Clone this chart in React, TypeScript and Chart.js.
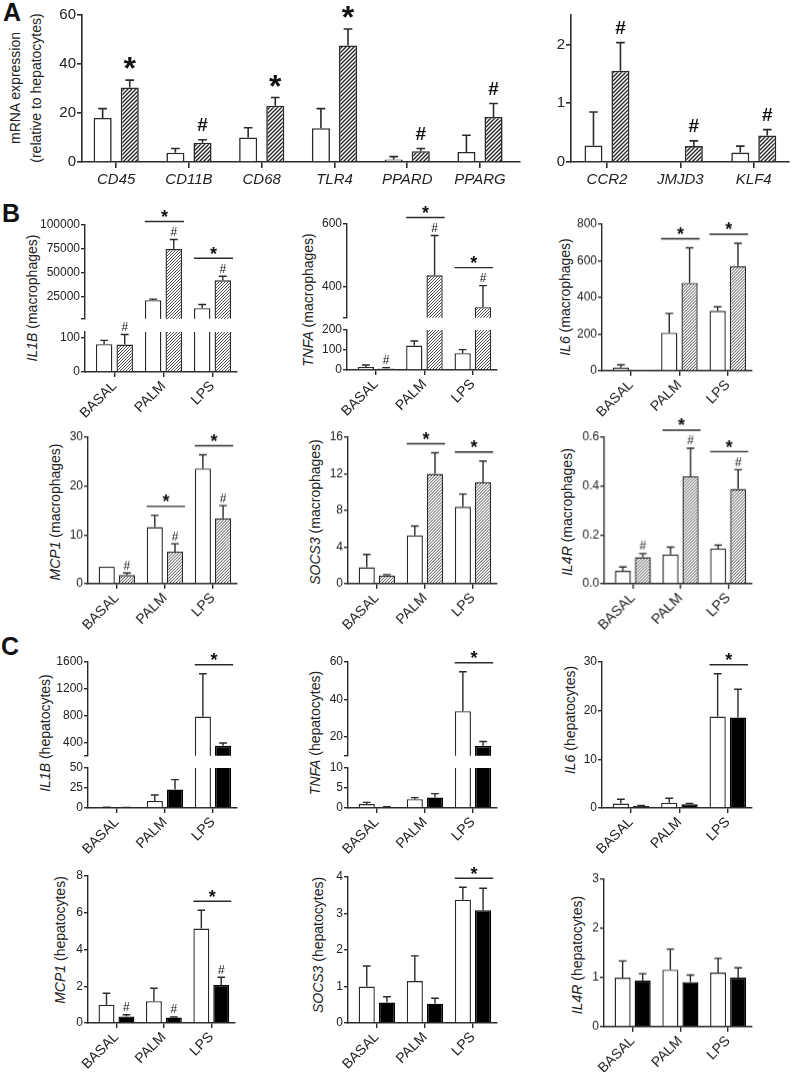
import React, { useEffect, useRef } from 'react';
import { Chart, registerables } from 'chart.js';
Chart.register(...registerables);

const FONT = "'Liberation Sans', Arial, Helvetica, sans-serif";
const INK = '#2a2a2a';

// ---------------- Panel A ----------------
const genesA = ['CD45', 'CD11B', 'CD68', 'TLR4', 'PPARD', 'PPARG'];
const hepA = [18.0, 3.8, 10.0, 13.8, 1.0, 4.1];
const hepASem = [3.8, 1.7, 4.0, 8.0, 1.2, 6.8];
const macA = [30.4, 7.9, 23.0, 47.6, 4.4, 18.4];
const macASem = [3.0, 1.2, 3.3, 6.7, 1.1, 5.5];
const starA = [true, false, true, true, false, false];
const hashA = [false, true, false, false, true, true];
const ticksA = [0, 20, 40, 60];

const genesA2 = ['CCR2', 'JMJD3', 'KLF4'];
const hepA2 = [0.28, 0.01, 0.16];
const hepA2Sem = [0.57, 0, 0.11];
const macA2 = [1.55, 0.27, 0.45];
const macA2Sem = [0.48, 0.09, 0.1];
const hashA2 = [true, true, true];
const ticksA2 = [0, 1, 2];

// ---------------- Panel B (macrophages) ----------------
const treatments = ['BASAL', 'PALM', 'LPS'];
const none = [false, false, false];
const all3 = [true, true, true];
const palmLps = [false, true, true];
const lpsOnly = [false, false, true];

const il1bMacOpen = [80, 21900, 13500];
const il1bMacOpenSem = [11, 1000, 3800];
const il1bMacHatch = [79, 75000, 42500];
const il1bMacHatchSem = [29, 10000, 4200];
const il1bMacTicksTop = [2500, 25000, 50000, 75000, 100000];
const il1bMacTicksBottom = [0, 50, 100, 115];

const tnfaMacOpen = [15, 122, 84];
const tnfaMacOpenSem = [10, 23, 18];
const tnfaMacHatch = [8, 436, 334];
const tnfaMacHatchSem = [4, 127, 69];
const tnfaMacTicksTop = [300, 400, 600];
const tnfaMacTicksBottom = [0, 100, 200];

const il6MacOpen = [18, 207, 327];
const il6MacOpenSem = [15, 106, 22];
const il6MacHatch = [3, 480, 571];
const il6MacHatchSem = [0, 191, 125];
const il6MacTicks = [0, 200, 400, 600, 800];

const mcp1MacOpen = [3.5, 11.6, 23.6];
const mcp1MacOpenSem = [0, 2.4, 2.8];
const mcp1MacHatch = [1.8, 6.6, 13.4];
const mcp1MacHatchSem = [0.4, 1.6, 2.6];
const mcp1MacTicks = [0, 10, 20, 30];

const socs3MacOpen = [1.8, 5.3, 8.4];
const socs3MacOpenSem = [1.4, 1.0, 1.4];
const socs3MacHatch = [0.9, 12.0, 11.1];
const socs3MacHatchSem = [0.1, 2.3, 2.3];
const socs3MacTicks = [0, 4, 8, 12, 16];

const il4rMacOpen = [0.053, 0.12, 0.144];
const il4rMacOpenSem = [0.016, 0.03, 0.014];
const il4rMacHatch = [0.109, 0.44, 0.388];
const il4rMacHatchSem = [0.015, 0.115, 0.079];
const il4rMacTicks = [0, 0.2, 0.4, 0.6];

// ---------------- Panel C (hepatocytes) ----------------
const il1bHepOpen = [0.9, 8.8, 785];
const il1bHepOpenSem = [0.2, 7.4, 640];
const il1bHepSolid = [0.6, 23, 350];
const il1bHepSolidSem = [0.2, 12.5, 40];
const il1bHepTicksTop = [200, 400, 800, 1200, 1600];
const il1bHepTicksBottom = [0, 25, 50];

const tnfaHepOpen = [1.0, 2.2, 33.8];
const tnfaHepOpenSem = [0.4, 0.4, 21];
const tnfaHepSolid = [0.2, 2.6, 15.2];
const tnfaHepSolidSem = [0.1, 1.0, 2.4];
const tnfaHepTicksTop = [10, 20, 40, 60];
const tnfaHepTicksBottom = [0, 5, 10];

const il6HepOpen = [0.9, 1.1, 18.8];
const il6HepOpenSem = [0.9, 0.9, 8.8];
const il6HepSolid = [0.4, 0.75, 18.6];
const il6HepSolidSem = [0.1, 0.2, 5.8];
const il6HepTicks = [0, 10, 20, 30];

const mcp1HepOpen = [1.0, 1.19, 5.14];
const mcp1HepOpenSem = [0.62, 0.7, 1.0];
const mcp1HepSolid = [0.36, 0.3, 2.07];
const mcp1HepSolidSem = [0.09, 0.03, 0.42];
const mcp1HepTicks = [0, 2, 4, 6, 8];

const socs3HepOpen = [1.0, 1.15, 3.38];
const socs3HepOpenSem = [0.56, 0.69, 0.34];
const socs3HepSolid = [0.56, 0.53, 3.09];
const socs3HepSolidSem = [0.16, 0.15, 0.6];
const socs3HepTicks = [0, 1, 2, 3, 4];

const il4rHepOpen = [1.0, 1.16, 1.1];
const il4rHepOpenSem = [0.34, 0.42, 0.29];
const il4rHepSolid = [0.94, 0.91, 1.0];
const il4rHepSolidSem = [0.14, 0.14, 0.2];
const il4rHepTicks = [0, 1, 2, 3];

// ------------------------------------------------------

function makeHatch(period: number, lw: number, color: string) {
  const c = document.createElement('canvas');
  c.width = period;
  c.height = period;
  const g = c.getContext('2d')!;
  g.fillStyle = '#fff';
  g.fillRect(0, 0, period, period);
  g.strokeStyle = color;
  g.lineWidth = lw;
  g.beginPath();
  for (let k = -1; k <= 1; k++) {
    g.moveTo(k * period - 1, period + 1);
    g.lineTo(k * period + period + 1, -1);
  }
  g.stroke();
  return g.createPattern(c, 'repeat')!;
}

type Props = {
  left: number; right: number; top: number; bottom: number;
  cats: string[]; xMin: number; xMax: number;
  open: number[]; openSem: number[];
  filled: number[]; filledSem: number[];
  fill: 'coarse' | 'fine' | 'solid';
  yMin: number; yMax: number; yTicks: number[]; blank?: number[]; decimals?: number;
  showX: boolean; isTop: boolean; big?: boolean;
  hashOpen?: boolean[]; hashFilled?: boolean[]; starLine?: boolean[]; starAbove?: boolean[];
  catPct?: number; barPct?: number;
};

function drawGlyph(ctx: CanvasRenderingContext2D, ch: string, x: number, cy: number, size: number, bold: boolean) {
  ctx.font = `${bold ? 'bold ' : ''}${size}px ${FONT}`;
  ctx.textAlign = 'center';
  ctx.textBaseline = 'alphabetic';
  const m = ctx.measureText(ch);
  const asc = m.actualBoundingBoxAscent || size * 0.7;
  const desc = m.actualBoundingBoxDescent || 0;
  ctx.fillText(ch, x, cy + (asc - desc) / 2);
}

function BarPanel(p: Props) {
  const ref = useRef<HTMLCanvasElement>(null);
  const padL = 62, padT = 50, padR = 14;
  const xH = p.showX ? (p.big ? 36 : 64) : 0;
  const padB = p.showX ? 0 : 8;
  const W = p.right - p.left + padL + padR;
  const H = p.bottom - p.top + padT + xH + padB;

  useEffect(() => {
    const canvas = ref.current!;
    const fillStyle: any = p.fill === 'solid' ? '#000' : p.fill === 'coarse' ? makeHatch(4, 1.3, '#222') : makeHatch(3, 0.9, '#3a3a3a');
    const keep = (v: number) => (p.yMin > 0 ? (v > p.yMin ? v : null) : v);
    const lw = p.big ? 1.6 : 1.4;
    const tickFont = { family: FONT, size: p.big ? 15 : 12 };

    const annot = {
      id: 'annot',
      afterDatasetsDraw(chart: any) {
        const ctx: CanvasRenderingContext2D = chart.ctx;
        const ys = chart.scales.y;
        const sets: [number[], number[]][] = [[p.open, p.openSem], [p.filled, p.filledSem]];
        ctx.save();
        ctx.strokeStyle = INK;
        ctx.fillStyle = '#111';
        ctx.lineWidth = lw;
        sets.forEach(([vals, sems], di) => {
          const meta = chart.getDatasetMeta(di);
          vals.forEach((v, j) => {
            const sem = sems[j];
            if (!sem) return;
            if (v > p.yMax || v < p.yMin) return;
            const el = meta.data[j];
            const y0 = ys.getPixelForValue(v);
            const y1 = ys.getPixelForValue(v + sem);
            const hw = el.width * 0.24;
            ctx.beginPath();
            ctx.moveTo(el.x, y0);
            ctx.lineTo(el.x, y1);
            ctx.moveTo(el.x - hw, y1);
            ctx.lineTo(el.x + hw, y1);
            ctx.stroke();
          });
        });
        const visible = (t: number) => t >= p.yMin && (t <= p.yMax || p.isTop);
        const mo = chart.getDatasetMeta(0);
        const mf = chart.getDatasetMeta(1);
        p.cats.forEach((_, j) => {
          const tO = p.open[j] + p.openSem[j];
          const tF = p.filled[j] + p.filledSem[j];
          if (p.hashFilled && p.hashFilled[j] && visible(tF)) {
            drawGlyph(ctx, '#', mf.data[j].x, ys.getPixelForValue(tF) - (p.big ? 15 : 8), p.big ? 19 : 12, !!p.big);
          }
          if (p.hashOpen && p.hashOpen[j] && visible(tO)) {
            drawGlyph(ctx, '#', mo.data[j].x, ys.getPixelForValue(tO) - (p.big ? 15 : 8), p.big ? 19 : 12, !!p.big);
          }
          if (p.starAbove && p.starAbove[j] && visible(tF)) {
            drawGlyph(ctx, '*', mf.data[j].x, ys.getPixelForValue(tF) - 17, 32, true);
          }
          if (p.starLine && p.starLine[j]) {
            const tMax = Math.max(tO, tF);
            if (!visible(tMax)) return;
            const hashTall = tF >= tO ? !!(p.hashFilled && p.hashFilled[j]) : !!(p.hashOpen && p.hashOpen[j]);
            const ly = ys.getPixelForValue(tMax) - (hashTall ? 18 : 9);
            const x0 = mo.data[j].x - mo.data[j].width / 2;
            const x1 = mf.data[j].x + mf.data[j].width / 2 + 2;
            ctx.beginPath();
            ctx.moveTo(x0, ly);
            ctx.lineTo(x1, ly);
            ctx.stroke();
            drawGlyph(ctx, '*', (x0 + x1) / 2, ly - 8, 18, true);
          }
        });
        ctx.restore();
      },
    };

    const chart = new Chart(canvas, {
      type: 'bar',
      data: {
        datasets: [
          {
            data: p.open.map((v, i) => ({ x: i, y: keep(v) })) as any,
            backgroundColor: '#fff',
            borderColor: INK,
            borderWidth: lw,
            borderSkipped: 'start',
            clip: 0,
          } as any,
          {
            data: p.filled.map((v, i) => ({ x: i, y: keep(v) })) as any,
            backgroundColor: fillStyle,
            borderColor: p.fill === 'solid' ? '#000' : INK,
            borderWidth: lw,
            borderSkipped: 'start',
            clip: 0,
          } as any,
        ],
      },
      options: {
        responsive: false,
        animation: false,
        devicePixelRatio: 1,
        events: [],
        categoryPercentage: p.catPct ?? 0.84,
        barPercentage: p.barPct ?? 0.8,
        layout: { padding: { top: padT, right: padR, bottom: padB, left: 0 } },
        plugins: { legend: { display: false }, tooltip: { enabled: false } },
        scales: {
          x: {
            type: 'linear',
            min: p.xMin,
            max: p.xMax,
            offset: false,
            display: p.showX,
            afterFit: (s: any) => { s.height = xH; },
            afterBuildTicks: (s: any) => { s.ticks = p.cats.map((_, i) => ({ value: i })); },
            border: { display: true, color: INK, width: lw },
            grid: { display: true, drawOnChartArea: false, drawTicks: true, tickLength: p.big ? 6 : 5, color: INK, lineWidth: lw, offset: false },
            ticks: {
              autoSkip: false,
              minRotation: p.big ? 0 : 45,
              maxRotation: p.big ? 0 : 45,
              padding: p.big ? 3 : 1,
              color: '#222',
              font: p.big ? { family: FONT, size: 15, style: 'italic' } : { family: FONT, size: 14 },
              callback: (v: any) => p.cats[v] ?? '',
            },
          } as any,
          y: {
            type: 'linear',
            min: p.yMin,
            max: p.yMax,
            afterFit: (s: any) => { s.width = padL; },
            afterBuildTicks: (s: any) => { s.ticks = p.yTicks.map((v) => ({ value: v })); },
            border: { display: true, color: INK, width: lw },
            grid: { display: true, drawOnChartArea: false, drawTicks: true, tickLength: p.big ? 5 : 4, color: INK, lineWidth: lw },
            ticks: {
              padding: 1,
              color: '#222',
              font: tickFont,
              callback: (v: any) => (p.blank && p.blank.includes(v) ? '' : p.decimals ? Number(v).toFixed(p.decimals) : String(v)),
            },
          } as any,
        },
      } as any,
      plugins: [annot],
    });
    return () => chart.destroy();
  }, []);

  return (
    <canvas
      ref={ref}
      width={W}
      height={H}
      style={{ position: 'absolute', left: p.left - padL, top: p.top - padT, width: W, height: H }}
    />
  );
}

function YTitle({ cx, cy, gene, cell }: { cx: number; cy: number; gene: string; cell: string }) {
  return (
    <div
      style={{
        position: 'absolute', left: cx, top: cy, transform: 'translate(-50%,-50%) rotate(-90deg)',
        whiteSpace: 'nowrap', font: `14px ${FONT}`, color: '#222', lineHeight: '16px',
      }}
    >
      <i>{gene}</i> ({cell})
    </div>
  );
}

function Letter({ x, y, t }: { x: number; y: number; t: string }) {
  return (
    <div style={{ position: 'absolute', left: x, top: y, font: `bold 25px ${FONT}`, color: '#111', lineHeight: '25px' }}>{t}</div>
  );
}

export default function App() {
  const bc = { cats: treatments, xMin: -0.6, xMax: 2.5 };
  return (
    <div style={{ position: 'absolute', left: 0, top: 0, width: 794, height: 1072, background: '#fff', overflow: 'hidden' }}>
      <Letter x={3} y={0} t="A" />
      <Letter x={2} y={201} t="B" />
      <Letter x={1} y={634} t="C" />

      <div style={{ position: 'absolute', left: 26, top: 88, transform: 'translate(-50%,-50%) rotate(-90deg)', whiteSpace: 'nowrap', font: `14px ${FONT}`, color: '#222', textAlign: 'center', lineHeight: '21px' }}>
        mRNA expression<br />(relative to hepatocytes)
      </div>

      {/* Panel A */}
      <BarPanel left={82} right={520} top={15} bottom={162} cats={genesA} xMin={-0.47} xMax={5.55}
        open={hepA} openSem={hepASem} filled={macA} filledSem={macASem} fill="coarse"
        yMin={0} yMax={60} yTicks={ticksA} showX isTop big hashFilled={hashA} starAbove={starA}
        catPct={0.745} barPct={0.667} />
      <BarPanel left={571} right={789} top={15} bottom={162} cats={genesA2} xMin={-0.49} xMax={2.48}
        open={hepA2} openSem={hepA2Sem} filled={macA2} filledSem={macA2Sem} fill="coarse"
        yMin={0} yMax={2.5} yTicks={ticksA2} showX isTop big hashFilled={hashA2}
        catPct={0.735} barPct={0.667} />

      {/* Panel B row 1 */}
      <YTitle cx={32} cy={298} gene="IL1B" cell="macrophages" />
      <BarPanel left={85} right={237} top={225} bottom={319} {...bc}
        open={il1bMacOpen} openSem={il1bMacOpenSem} filled={il1bMacHatch} filledSem={il1bMacHatchSem} fill="fine"
        yMin={2500} yMax={100000} yTicks={il1bMacTicksTop} blank={[2500]} showX={false} isTop
        hashFilled={all3} starLine={palmLps} />
      <BarPanel left={85} right={237} top={331.7} bottom={372.3} {...bc}
        open={il1bMacOpen} openSem={il1bMacOpenSem} filled={il1bMacHatch} filledSem={il1bMacHatchSem} fill="fine"
        yMin={0} yMax={115} yTicks={il1bMacTicksBottom} blank={[115]} showX isTop={false}
        hashFilled={all3} starLine={palmLps} />

      <YTitle cx={308} cy={300} gene="TNFA" cell="macrophages" />
      <BarPanel left={347} right={497} top={224.3} bottom={318.3} {...bc}
        open={tnfaMacOpen} openSem={tnfaMacOpenSem} filled={tnfaMacHatch} filledSem={tnfaMacHatchSem} fill="fine"
        yMin={300} yMax={600} yTicks={tnfaMacTicksTop} blank={[300]} showX={false} isTop
        hashFilled={all3} starLine={palmLps} />
      <BarPanel left={347} right={497} top={330} bottom={370.3} {...bc}
        open={tnfaMacOpen} openSem={tnfaMacOpenSem} filled={tnfaMacHatch} filledSem={tnfaMacHatchSem} fill="fine"
        yMin={0} yMax={200} yTicks={tnfaMacTicksBottom} showX isTop={false}
        hashFilled={all3} starLine={palmLps} />

      <YTitle cx={565} cy={297} gene="IL6" cell="macrophages" />
      <BarPanel left={601.7} right={751.7} top={224} bottom={370.7} {...bc}
        open={il6MacOpen} openSem={il6MacOpenSem} filled={il6MacHatch} filledSem={il6MacHatchSem} fill="fine"
        yMin={0} yMax={800} yTicks={il6MacTicks} showX isTop starLine={palmLps} />

      {/* Panel B row 2 */}
      <YTitle cx={55} cy={512} gene="MCP1" cell="macrophages" />
      <BarPanel left={88} right={237} top={437.3} bottom={584.3} {...bc}
        open={mcp1MacOpen} openSem={mcp1MacOpenSem} filled={mcp1MacHatch} filledSem={mcp1MacHatchSem} fill="fine"
        yMin={0} yMax={30} yTicks={mcp1MacTicks} showX isTop hashFilled={all3} starLine={palmLps} />

      <YTitle cx={315} cy={512} gene="SOCS3" cell="macrophages" />
      <BarPanel left={348} right={497} top={437.3} bottom={584.3} {...bc}
        open={socs3MacOpen} openSem={socs3MacOpenSem} filled={socs3MacHatch} filledSem={socs3MacHatchSem} fill="fine"
        yMin={0} yMax={16} yTicks={socs3MacTicks} showX isTop starLine={palmLps} />

      <YTitle cx={567} cy={512} gene="IL4R" cell="macrophages" />
      <BarPanel left={604} right={751.7} top={437.3} bottom={584.3} {...bc}
        open={il4rMacOpen} openSem={il4rMacOpenSem} filled={il4rMacHatch} filledSem={il4rMacHatchSem} fill="fine"
        yMin={0} yMax={0.6} yTicks={il4rMacTicks} decimals={1} showX isTop hashFilled={all3} starLine={palmLps} />

      {/* Panel C row 1 */}
      <YTitle cx={45} cy={733} gene="IL1B" cell="hepatocytes" />
      <BarPanel left={88} right={237} top={662.3} bottom={756.5} {...bc}
        open={il1bHepOpen} openSem={il1bHepOpenSem} filled={il1bHepSolid} filledSem={il1bHepSolidSem} fill="solid"
        yMin={200} yMax={1600} yTicks={il1bHepTicksTop} blank={[200]} showX={false} isTop starLine={lpsOnly} />
      <BarPanel left={88} right={237} top={767.7} bottom={807.7} {...bc}
        open={il1bHepOpen} openSem={il1bHepOpenSem} filled={il1bHepSolid} filledSem={il1bHepSolidSem} fill="solid"
        yMin={0} yMax={50} yTicks={il1bHepTicksBottom} showX isTop={false} starLine={lpsOnly} />

      <YTitle cx={315} cy={733} gene="TNFA" cell="hepatocytes" />
      <BarPanel left={348} right={497} top={662.3} bottom={756.5} {...bc}
        open={tnfaHepOpen} openSem={tnfaHepOpenSem} filled={tnfaHepSolid} filledSem={tnfaHepSolidSem} fill="solid"
        yMin={10} yMax={60} yTicks={tnfaHepTicksTop} blank={[10]} showX={false} isTop starLine={lpsOnly} />
      <BarPanel left={348} right={497} top={767.7} bottom={807.7} {...bc}
        open={tnfaHepOpen} openSem={tnfaHepOpenSem} filled={tnfaHepSolid} filledSem={tnfaHepSolidSem} fill="solid"
        yMin={0} yMax={10} yTicks={tnfaHepTicksBottom} showX isTop={false} starLine={lpsOnly} />

      <YTitle cx={570} cy={720} gene="IL6" cell="hepatocytes" />
      <BarPanel left={601.7} right={752} top={662.3} bottom={808.3} {...bc}
        open={il6HepOpen} openSem={il6HepOpenSem} filled={il6HepSolid} filledSem={il6HepSolidSem} fill="solid"
        yMin={0} yMax={30} yTicks={il6HepTicks} showX isTop starLine={lpsOnly} />

      {/* Panel C row 2 */}
      <YTitle cx={60} cy={940} gene="MCP1" cell="hepatocytes" />
      <BarPanel left={88} right={235} top={875.7} bottom={1023.3} {...bc}
        open={mcp1HepOpen} openSem={mcp1HepOpenSem} filled={mcp1HepSolid} filledSem={mcp1HepSolidSem} fill="solid"
        yMin={0} yMax={8} yTicks={mcp1HepTicks} showX isTop hashFilled={all3} starLine={lpsOnly} />

      <YTitle cx={318} cy={945} gene="SOCS3" cell="hepatocytes" />
      <BarPanel left={348} right={497} top={876.7} bottom={1023.3} {...bc}
        open={socs3HepOpen} openSem={socs3HepOpenSem} filled={socs3HepSolid} filledSem={socs3HepSolidSem} fill="solid"
        yMin={0} yMax={4} yTicks={socs3HepTicks} showX isTop starLine={lpsOnly} />

      <YTitle cx={577} cy={955} gene="IL4R" cell="hepatocytes" />
      <BarPanel left={604} right={752} top={879} bottom={1026.7} {...bc}
        open={il4rHepOpen} openSem={il4rHepOpenSem} filled={il4rHepSolid} filledSem={il4rHepSolidSem} fill="solid"
        yMin={0} yMax={3} yTicks={il4rHepTicks} showX isTop hashFilled={none} />
    </div>
  );
}
